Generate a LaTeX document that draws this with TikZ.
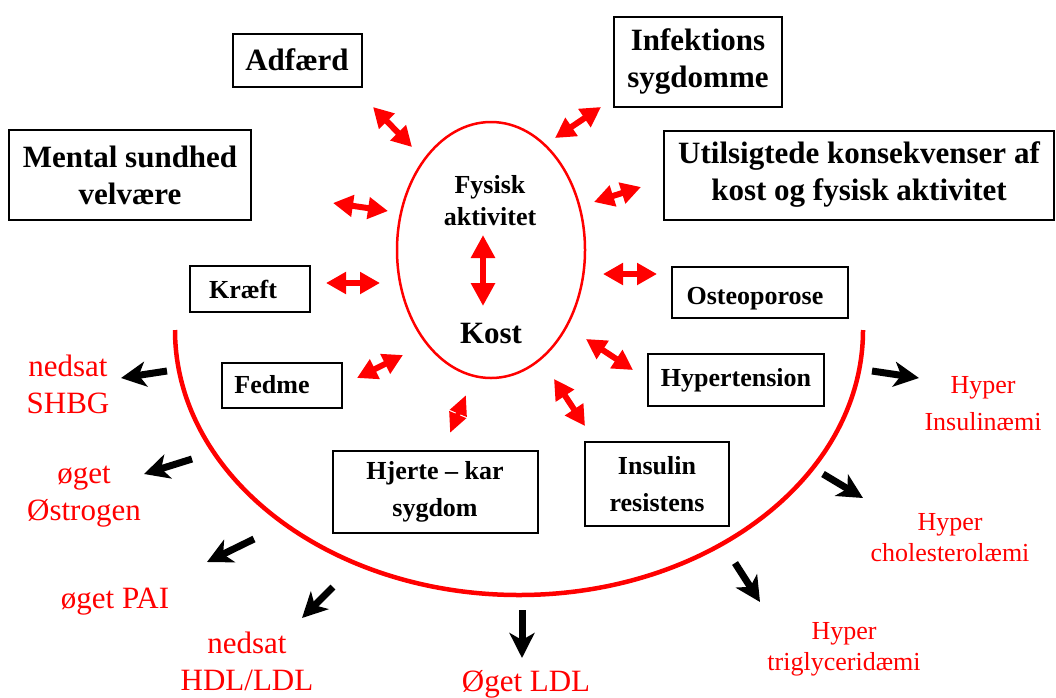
\documentclass[tikz,border=0pt]{standalone}
\usepackage{fontspec}
\setmainfont{Liberation Serif}
\usetikzlibrary{arrows.meta, shapes.geometric}

\begin{document}
\begin{tikzpicture}[
  x=1pt, y=-1pt,
  box/.style={draw, line width=2pt, align=center, inner sep=0pt, font=\bfseries\fontsize{26}{37}\selectfont},
  bigbox/.style={box, font=\bfseries\fontsize{31}{37}\selectfont},
  effect/.style={text=red, align=center, inner sep=0pt, font=\fontsize{31}{37}\selectfont},
  smalleffect/.style={effect, font=\fontsize{26}{31}\selectfont},
  link/.style={red, line width=6pt, {Triangle[length=20pt,width=21pt]}-{Triangle[length=20pt,width=21pt]}},
  outarrow/.style={line width=7pt, -{Stealth[length=25pt,width=25pt,inset=7pt]}}
]
\useasboundingbox (0,0) rectangle (1056,697);

% Core
\node[ellipse, draw=red, line width=2.5pt, minimum width=188pt, minimum height=256pt] (core) at (491,250) {};
\node[align=center, font=\bfseries\fontsize{26}{32}\selectfont] (fysisk) at (490,201) {Fysisk\\aktivitet};
\node[font=\bfseries\fontsize{31}{37}\selectfont] (kost) at (491,333) {Kost};

% Outer factors
\node[bigbox, minimum width=129pt, minimum height=53pt] (adfaerd) at (297,60) {Adfærd};
\node[bigbox, minimum width=242pt, minimum height=90pt] (mental) at (130,175) {Mental sundhed\\velvære};
\node[bigbox, minimum width=168pt, minimum height=90pt] (infektion) at (698,62) {Infektions\\sygdomme};
\node[bigbox, minimum width=390pt, minimum height=89pt] (utilsigtet) at (859,175) {Utilsigtede konsekvenser af\\kost og fysisk aktivitet};

% Diseases
\node[box, minimum width=120pt, minimum height=46pt] (kraeft) at (250,289) {Kræft\hspace{14pt}};
\node[box, minimum width=176pt, minimum height=51pt] (osteo) at (760,292) {\raisebox{-6pt}[18pt][5pt]{Osteoporose}\hspace{10pt}};
\node[box, minimum width=120pt, minimum height=45pt] (fedme) at (282,385) {Fedme\hspace{20pt}};
\node[box, minimum width=176pt, minimum height=52pt] (hypertension) at (736,380) {Hypertension};
\node[box, minimum width=205pt, minimum height=82pt] (hjerte) at (435,492) {Hjerte -- kar\\sygdom};
\node[box, minimum width=144pt, minimum height=84pt] (insulin) at (657,484) {Insulin\\resistens};

% Risk factors
\node[effect] (shbg) at (68,384) {nedsat\\SHBG};
\node[effect] (oestrogen) at (84,497) {øget\\Østrogen};
\node[effect, anchor=base] (pai) at (115,608) {øget PAI};
\node[effect] (hdl) at (247,661) {nedsat\\HDL/LDL};
\node[effect, anchor=base] (ldl) at (526,691) {Øget LDL};
\node[smalleffect, font=\fontsize{26}{37}\selectfont] (insulinaemi) at (983,404) {Hyper\\Insulinæmi};
\node[smalleffect] (kolesterol) at (950,538) {Hyper\\cholesterolæmi};
\node[smalleffect] (triglycerid) at (844,649) {Hyper\\triglyceridæmi};

% Boundary
\draw[red, line width=4.5pt] (175,330) arc[start angle=180, end angle=360, x radius=344pt, y radius=265pt];

% Arrows
\foreach \n/\xa/\ya/\xb/\yb in {adf/373/107/412/147, men/333/203/388/211, kra/326/283/380/283,
    inf/555/138/601/107, uti/594/202/641/187, ost/603/274/657/274, fed/357/378/403/355,
    hyp/586/339/633/370, ins/554/379/585/426} {
  \coordinate (\n-a) at (\xa,\ya);
  \coordinate (\n-b) at (\xb,\yb);
  \draw[link] (\n-a) -- (\n-b);
}
\coordinate (hje-a) at (450,433);
\coordinate (hje-b) at (466,395);
\draw[red, line width=5pt, {Triangle[length=20pt,width=17pt]}-{Triangle[length=20pt,width=17pt]}] (hje-a) -- (hje-b);
\coordinate (core-a) at (483,235);
\coordinate (core-b) at (483,306);
\draw[red, line width=6pt, {Triangle[length=23pt,width=23pt]}-{Triangle[length=23pt,width=23pt]}] (core-a) -- (core-b);

\foreach \n/\xa/\ya/\xb/\yb in {shb/167/371/121/378, oes/192/459/144/474, pai/254/539/207/562,
    hdl/333/587/302/618, ldl/522/610/522/658, ina/872/371/919/378, cho/823/474/863/498,
    tri/735/563/760/602} {
  \coordinate (\n-s) at (\xa,\ya);
  \coordinate (\n-t) at (\xb,\yb);
  \draw[outarrow] (\n-s) -- (\n-t);
}

\end{tikzpicture}
\end{document}
